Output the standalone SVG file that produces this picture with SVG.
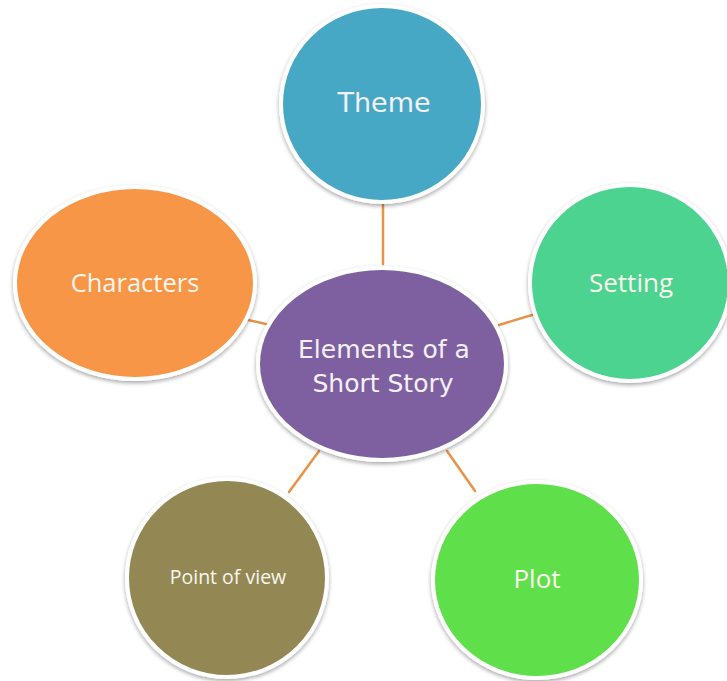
<svg xmlns="http://www.w3.org/2000/svg" width="727" height="681" viewBox="0 0 727 681">
  <defs>
    <filter id="shadow" x="-10%" y="-10%" width="120%" height="125%">
      <feGaussianBlur in="SourceAlpha" stdDeviation="2"/>
      <feOffset dx="0" dy="2" result="b"/>
      <feComponentTransfer><feFuncA type="linear" slope="0.35"/></feComponentTransfer>
      <feMerge><feMergeNode/><feMergeNode in="SourceGraphic"/></feMerge>
    </filter>
  </defs>
  <style>
    .node { stroke: #ffffff; stroke-width: 4; filter: url(#shadow); }
    .conn { stroke: #E8934A; stroke-width: 2.5; fill: none; stroke-linecap: round; }
    .comic { font-family: "Comic Sans MS", "DejaVu Sans", sans-serif; fill: #F4F1F6; text-anchor: middle; }
    .cal { font-family: "Open Sans", "Noto Sans", sans-serif; fill: #FAF6EE; text-anchor: middle; }
  </style>
  <rect width="727" height="681" fill="#ffffff"/>
  <g id="connectors">
    <line class="conn" x1="383" y1="205" x2="383" y2="264"/>
    <line class="conn" x1="248" y1="320" x2="266" y2="324"/>
    <line class="conn" x1="499" y1="325" x2="532" y2="315"/>
    <line class="conn" x1="289" y1="492" x2="319" y2="451"/>
    <line class="conn" x1="447" y1="451" x2="475" y2="491"/>
  </g>
  <g id="theme">
    <ellipse class="node" cx="382" cy="104" rx="101" ry="98" fill="#47A8C5"/>
    <text class="comic" x="384" y="112" font-size="27">Theme</text>
  </g>
  <g id="characters">
    <ellipse class="node" cx="135" cy="283" rx="120" ry="96" fill="#F79646"/>
    <text class="cal" x="135" y="292" font-size="25.5">Characters</text>
  </g>
  <g id="setting">
    <ellipse class="node" cx="630" cy="283" rx="100" ry="98" fill="#4BD38F"/>
    <text class="cal" x="631" y="292" font-size="26">Setting</text>
  </g>
  <g id="center">
    <ellipse class="node" cx="382" cy="364" rx="124" ry="96" fill="#7E61A0"/>
    <text class="comic" x="384" y="358" font-size="25">Elements of a</text>
    <text class="comic" x="383" y="392" font-size="25">Short Story</text>
  </g>
  <g id="point-of-view">
    <ellipse class="node" cx="227" cy="578" rx="100" ry="99" fill="#938853"/>
    <text class="cal" x="228" y="584" font-size="19.5">Point of view</text>
  </g>
  <g id="plot">
    <ellipse class="node" cx="537" cy="580" rx="104" ry="98" fill="#5EDF49"/>
    <text class="cal" x="537" y="588" font-size="26">Plot</text>
  </g>
</svg>
